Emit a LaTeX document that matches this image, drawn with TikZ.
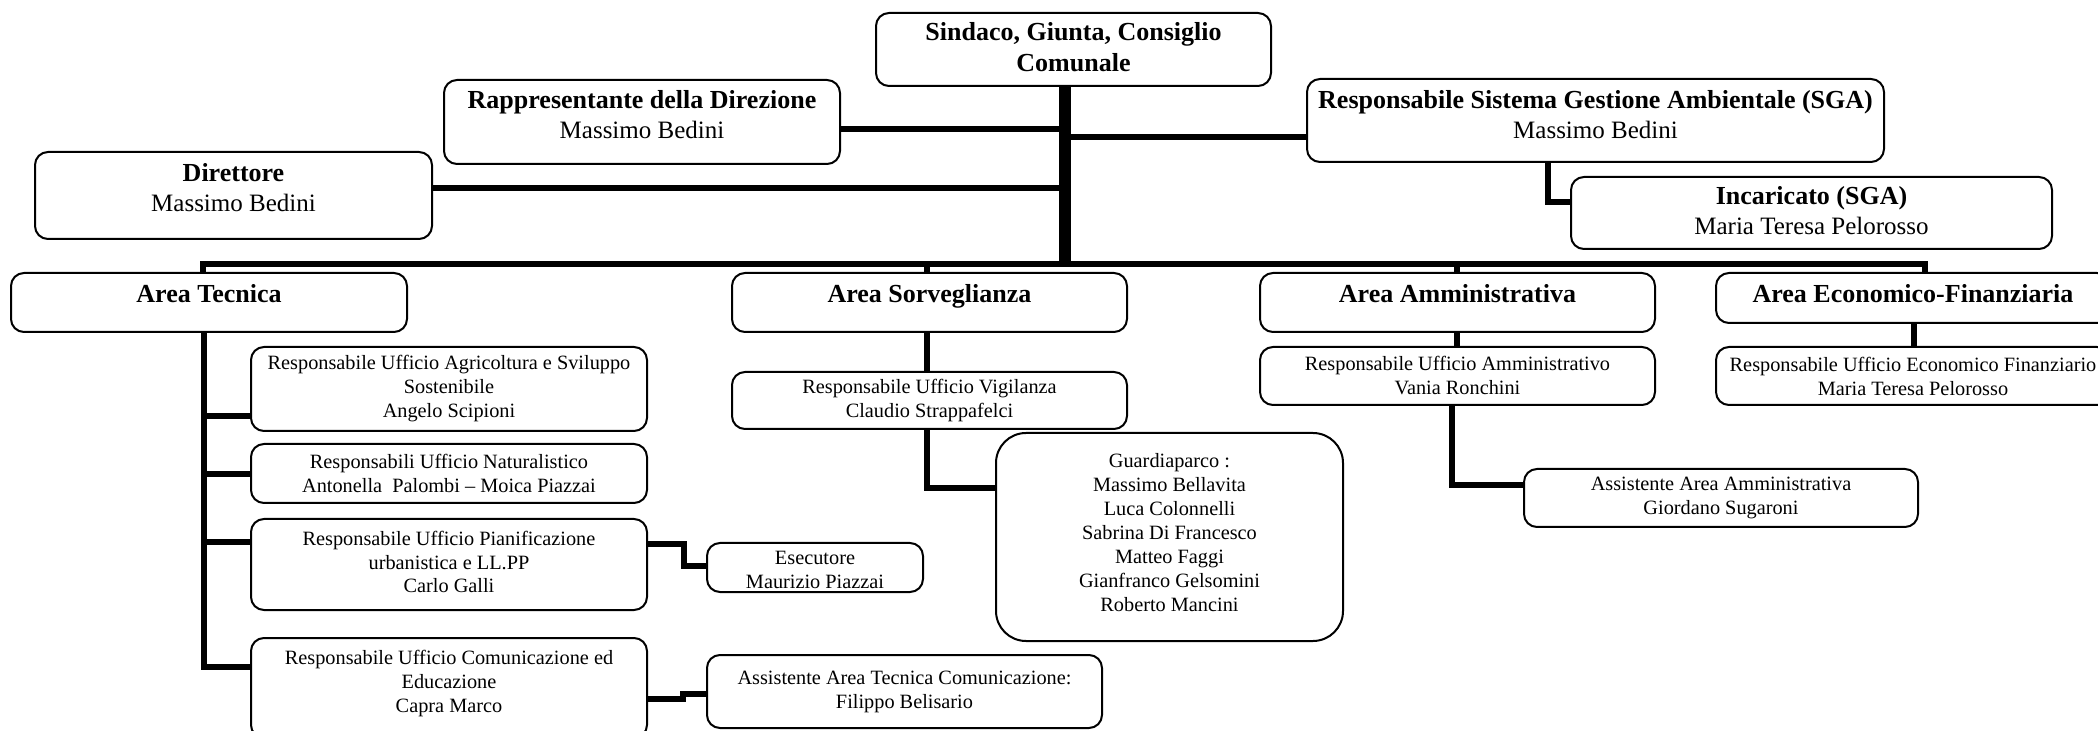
\documentclass[tikz,border=0pt]{standalone}
\usepackage{fontspec}
\setmainfont{Liberation Serif}
\newcommand{\tb}{\fontsize{13}{15.5}\selectfont\bfseries}
\newcommand{\tn}{\fontsize{12.5}{15}\selectfont\mdseries}
\newcommand{\sm}{\fontsize{10.15}{12}\selectfont}
\newcommand{\fl}[1]{\rule{0pt}{#1}}
\newcommand{\bx}[7][c]{\node[box,anchor=north west] (#2) at (#3,#4) {\parbox[c][\dimexpr #6pt/2\relax][#1]{\dimexpr #5pt/2\relax}{\centering #7}};}
\begin{document}
\begin{tikzpicture}[x=0.5pt,y=-0.5pt,
  box/.style={draw, line width=1pt, rounded corners=6.5pt, fill=white, inner sep=0pt, outer sep=0pt},
  bigbox/.style={box, rounded corners=15pt},
  conn/.style={line width=3pt, line join=miter},
  trunkline/.style={line width=6pt}]
\clip (0,0) rectangle (2098,731);
% top level
\bx[t]{sind}{876}{13}{395}{73}{\fl{13.7pt}\tb Sindaco, Giunta, Consiglio\\Comunale}
\bx[t]{rap}{444}{80}{396}{84}{\fl{14.5pt}\tb Rappresentante della Direzione\\\tn Massimo Bedini}
\bx[t]{dir}{35}{152}{397}{87}{\fl{15pt}\tb Direttore\\\tn Massimo Bedini}
\bx[t]{sga}{1307}{79}{577}{83}{\fl{14.7pt}\tb Responsabile Sistema Gestione Ambientale (SGA)\\\tn Massimo Bedini}
\bx[t]{inc}{1571}{177}{481}{72}{\fl{14pt}\tb Incaricato (SGA)\\\tn Maria Teresa Pelorosso}
% areas
\bx[t]{at}{11}{273}{396}{59}{\fl{15pt}\tb Area Tecnica}
\bx[t]{as}{732}{273}{395}{59}{\fl{15pt}\tb Area Sorveglianza}
\bx[t]{aa}{1260}{273}{395}{59}{\fl{15pt}\tb Area Amministrativa}
\bx[t]{ae}{1716}{273}{394}{50}{\fl{15pt}\tb Area Economico-Finanziaria}
% area tecnica
\bx{agr}{251}{347}{396}{84}{\sm Responsabile Ufficio Agricoltura e Sviluppo\\Sostenibile\\Angelo Scipioni}
\bx{nat}{251}{444}{396}{59}{\sm Responsabili Ufficio Naturalistico\\Antonella\ \ Palombi -- Moica Piazzai}
\bx[t]{pia}{251}{519}{396}{91}{\sm\fl{13pt}Responsabile Ufficio Pianificazione\\urbanistica e LL.PP\\Carlo Galli}
\bx[t]{com}{251}{638}{396}{100}{\sm\fl{13.2pt}Responsabile Ufficio Comunicazione ed\\Educazione\\Capra Marco}
\bx[t]{ese}{707}{543}{216}{49}{\sm\fl{11pt}Esecutore\\Maurizio Piazzai}
\bx{atc}{707}{655}{395}{73}{\sm Assistente Area Tecnica Comunicazione:\\Filippo Belisario}
% sorveglianza
\bx{vig}{732}{372}{395}{57}{\sm Responsabile Ufficio Vigilanza\\Claudio Strappafelci}
\node[bigbox,anchor=north west] (gua) at (996,433) {\parbox[c][104pt][c]{173.5pt}{\centering\sm Guardiaparco :\\Massimo Bellavita\\Luca Colonnelli\\Sabrina Di Francesco\\Matteo Faggi\\Gianfranco Gelsomini\\Roberto Mancini\par\vspace*{4pt}}};
% amministrativa
\bx{ruam}{1260}{347}{395}{58}{\sm Responsabile Ufficio Amministrativo\\Vania Ronchini}
\bx{aam}{1524}{469}{394}{58}{\sm Assistente Area Amministrativa\\Giordano Sugaroni}
% economico
\bx{ruef}{1716}{347}{394}{58}{\sm Responsabile Ufficio Economico Finanziario\\Maria Teresa Pelorosso}
% junction coordinates
\coordinate (tr) at (1065,264);
\coordinate (jr) at (1065,129);
\coordinate (jd) at (1065,188);
\coordinate (js) at (1065,137.5);
\coordinate (ji) at (1548,202);
\coordinate (bl) at (203,264);
\coordinate (bs) at (927,264);
\coordinate (ba) at (1457,264);
\coordinate (br) at (1925,264);
\coordinate (tv) at (204,667);
\coordinate (ta) at (204,416);
\coordinate (tn) at (204,474);
\coordinate (tp) at (204,542);
\coordinate (pe1) at (684,544);
\coordinate (pe2) at (684,566);
\coordinate (ca1) at (683,699);
\coordinate (ca2) at (683,694);
\coordinate (sv) at (927,400);
\coordinate (vg) at (927,488);
\coordinate (av) at (1457,340);
\coordinate (am) at (1452,485);
\coordinate (ev) at (1914,340);
% connectors
\draw[conn] (rap.east |- jr) -- (jr);
\draw[conn] (dir.east |- jd) -- (jd);
\draw[conn] (js) -- (sga.west |- js);
\draw[conn] (sga.south -| ji) -- (ji) -- (inc.west |- ji);
\draw[conn] (at.north -| bl) -- (bl) -- (br) -- (ae.north -| br);
\draw[conn] (bs) -- (as.north -| bs);
\draw[conn] (ba) -- (aa.north -| ba);
\draw[trunkline] (sind.south -| tr) -- (tr);
\draw[conn] (at.south -| tv) -- (tv) -- (com.west |- tv);
\draw[conn] (ta) -- (agr.west |- ta);
\draw[conn] (tn) -- (nat.west |- tn);
\draw[conn] (tp) -- (pia.west |- tp);
\draw[conn] (pia.east |- pe1) -- (pe1) -- (pe2) -- (ese.west |- pe2);
\draw[conn] (com.east |- ca1) -- (ca1) -- (ca2) -- (atc.west |- ca2);
\draw[conn] (as.south -| sv) -- (vig.north -| sv);
\draw[conn] (vig.south -| vg) -- (vg) -- (gua.west |- vg);
\draw[conn] (aa.south -| av) -- (ruam.north -| av);
\draw[conn] (ruam.south -| am) -- (am) -- (aam.west |- am);
\draw[conn] (ae.south -| ev) -- (ruef.north -| ev);
\end{tikzpicture}
\end{document}
